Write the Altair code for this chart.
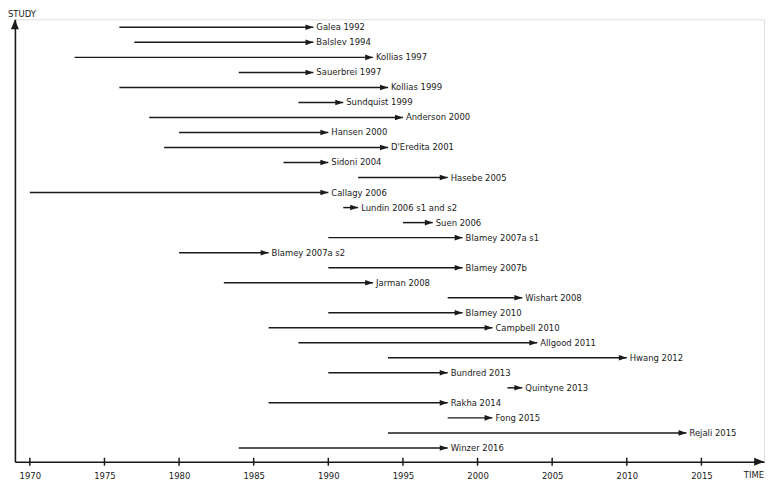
import altair as alt
import pandas as pd

studies = ["Galea 1992", "Balslev 1994", "Kollias 1997", "Sauerbrei 1997", "Kollias 1999",
           "Sundquist 1999", "Anderson 2000", "Hansen 2000", "D'Eredita 2001", "Sidoni 2004",
           "Hasebe 2005", "Callagy 2006", "Lundin 2006 s1 and s2", "Suen 2006", "Blamey 2007a s1",
           "Blamey 2007a s2", "Blamey 2007b", "Jarman 2008", "Wishart 2008", "Blamey 2010",
           "Campbell 2010", "Allgood 2011", "Hwang 2012", "Bundred 2013", "Quintyne 2013",
           "Rakha 2014", "Fong 2015", "Rejali 2015", "Winzer 2016"]
start_year = [1976, 1977, 1973, 1984, 1976, 1988, 1978, 1980, 1979, 1987, 1992, 1970, 1991, 1995, 1990,
              1980, 1990, 1983, 1998, 1990, 1986, 1988, 1994, 1990, 2002, 1986, 1998, 1994, 1984]
end_year = [1989, 1989, 1993, 1989, 1994, 1991, 1995, 1990, 1994, 1990, 1998, 1990, 1992, 1997, 1999,
            1986, 1999, 1993, 2003, 1999, 2001, 2004, 2010, 1998, 2003, 1998, 2001, 2014, 1998]
tick_years = [1970, 1975, 1980, 1985, 1990, 1995, 2000, 2005, 2010, 2015]
x_title = "TIME"
y_title = "STUDY"

df = pd.DataFrame({"study": studies, "start": start_year, "end": end_year,
                   "row": list(range(len(studies)))})
ticks_df = pd.DataFrame({"year": tick_years})
one = pd.DataFrame({"a": [0]})

FONT = "DejaVu Sans Condensed"
INK = "#1a1a1a"
W, H = 757, 447

xs = alt.Scale(domain=[1969, 2019.2], nice=False, zero=False)
ys = alt.Scale(domain=[-0.53, 28.92], reverse=True, nice=False, zero=False)

xaxis = alt.Axis(values=tick_years, format="d", ticks=False, domain=True, domainColor=INK,
                 domainWidth=1.6, labelFont=FONT, labelFontSize=9.5, labelColor=INK,
                 labelPadding=9, grid=False, title=None, labelFlush=False)
yaxis = alt.Axis(labels=False, ticks=False, domain=True, domainColor=INK, domainWidth=1.6,
                 grid=False, title=None)

bars = alt.Chart(df).mark_rule(color=INK, strokeWidth=1.5).encode(
    x=alt.X("start:Q", scale=xs, axis=xaxis),
    x2="end:Q",
    y=alt.Y("row:Q", scale=ys, axis=yaxis),
)

heads = alt.Chart(df).mark_point(
    shape="M0,0 L-2,-0.7 L-2,0.7 Z", filled=True, size=64, color=INK, opacity=1
).encode(x=alt.X("end:Q", scale=xs), y=alt.Y("row:Q", scale=ys))

labels = alt.Chart(df).mark_text(
    align="left", baseline="middle", dx=3, font=FONT, fontSize=9.5, color=INK
).encode(x=alt.X("end:Q", scale=xs), y=alt.Y("row:Q", scale=ys), text="study:N")

tick_marks = alt.Chart(ticks_df).mark_rule(color=INK, strokeWidth=1.5).encode(
    x=alt.X("year:Q", scale=xs), y=alt.value(H - 4), y2=alt.value(H + 4)
)

x_arrow = alt.Chart(one).mark_point(
    shape="M0,0 L-2,-0.8 L-2,0.8 Z", filled=True, size=100, color=INK, opacity=1
).encode(x=alt.value(W), y=alt.value(H))

y_arrow = alt.Chart(one).mark_point(
    shape="M0,0 L-0.8,2 L0.8,2 Z", filled=True, size=100, color=INK, opacity=1
).encode(x=alt.value(0), y=alt.value(0))

x_lab = alt.Chart(one).mark_text(
    align="right", baseline="middle", font=FONT, fontSize=9.5, color=INK
).encode(x=alt.value(W), y=alt.value(H + 13), text=alt.value(x_title))

y_lab = alt.Chart(one).mark_text(
    align="left", baseline="middle", font=FONT, fontSize=9.5, color=INK
).encode(x=alt.value(-7), y=alt.value(-5), text=alt.value(y_title))

chart = alt.layer(bars, heads, labels, tick_marks, x_arrow, y_arrow, x_lab, y_lab).properties(
    width=W, height=H,
    autosize=alt.AutoSizeParams(type="none"),
    padding={"left": 7, "top": 9, "right": 6, "bottom": 20},
).configure_view(stroke=None).configure(background="white")

chart.save("out.html", embed_options={"renderer": "svg", "actions": False})
